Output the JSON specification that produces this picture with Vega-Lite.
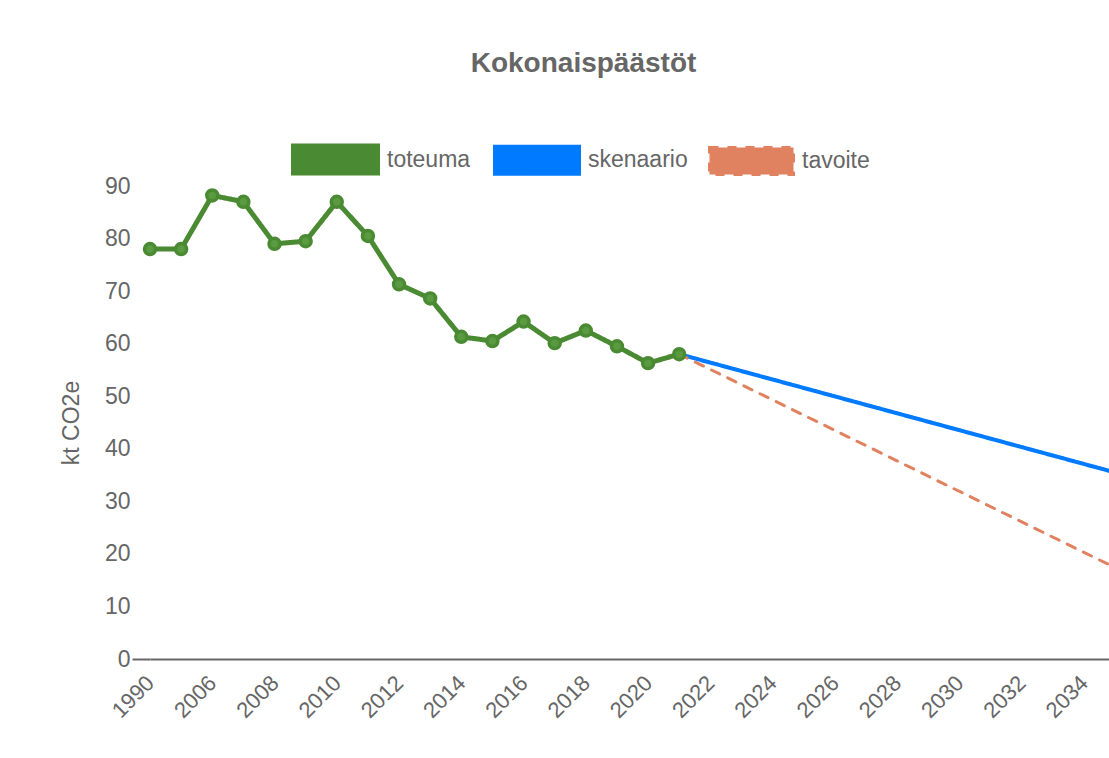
{
  "$schema": "https://vega.github.io/schema/vega-lite/v6.json",
  "autosize": "none",
  "width": 959,
  "height": 473,
  "padding": {"left": 150, "top": 186, "right": 0, "bottom": 99},
  "background": "white",
  "config": {
    "view": {"stroke": null},
    "font": "Liberation Sans"
  },
  "title": {
    "text": "Kokonaispäästöt",
    "font": "Liberation Sans",
    "fontSize": 28,
    "fontWeight": "bold",
    "color": "#666666",
    "anchor": "middle",
    "dx": -46,
    "offset": 52
  },
  "data": {
    "values": [
      {"year": "1990", "value": 78, "series": "toteuma"},
      {"year": "2005", "value": 78, "series": "toteuma"},
      {"year": "2006", "value": 88.2, "series": "toteuma"},
      {"year": "2007", "value": 87, "series": "toteuma"},
      {"year": "2008", "value": 79, "series": "toteuma"},
      {"year": "2009", "value": 79.5, "series": "toteuma"},
      {"year": "2010", "value": 87, "series": "toteuma"},
      {"year": "2011", "value": 80.5, "series": "toteuma"},
      {"year": "2012", "value": 71.3, "series": "toteuma"},
      {"year": "2013", "value": 68.6, "series": "toteuma"},
      {"year": "2014", "value": 61.3, "series": "toteuma"},
      {"year": "2015", "value": 60.5, "series": "toteuma"},
      {"year": "2016", "value": 64.2, "series": "toteuma"},
      {"year": "2017", "value": 60.1, "series": "toteuma"},
      {"year": "2018", "value": 62.5, "series": "toteuma"},
      {"year": "2019", "value": 59.5, "series": "toteuma"},
      {"year": "2020", "value": 56.3, "series": "toteuma"},
      {"year": "2021", "value": 58, "series": "toteuma"},
      {"year": "2021", "value": 58, "series": "skenaario"},
      {"year": "2035", "value": 35.5, "series": "skenaario"},
      {"year": "2021", "value": 58, "series": "tavoite"},
      {"year": "2035", "value": 17.4, "series": "tavoite"}
    ]
  },
  "encoding": {
    "x": {
      "field": "year",
      "type": "ordinal",
      "sort": null,
      "scale": {
        "type": "point",
        "padding": 0,
        "range": [0, 965],
        "domain": ["1990","2005","2006","2007","2008","2009","2010","2011","2012","2013","2014","2015","2016","2017","2018","2019","2020","2021","2022","2023","2024","2025","2026","2027","2028","2029","2030","2031","2032","2033","2034","2035"]
      },
      "axis": {
        "title": null,
        "values": ["1990","2006","2008","2010","2012","2014","2016","2018","2020","2022","2024","2026","2028","2030","2032","2034"],
        "labelAngle": -45,
        "labelFontSize": 22,
        "labelColor": "#666666",
        "labelFont": "Liberation Sans",
        "labelOffset": -7,
        "ticks": false,
        "labelPadding": 13,
        "domainColor": "#666666",
        "domainWidth": 2,
        "grid": false
      }
    },
    "y": {
      "field": "value",
      "type": "quantitative",
      "scale": {"domain": [0, 90], "nice": false, "zero": true},
      "axis": {
        "title": "kt CO2e",
        "titleFont": "Liberation Sans",
        "titleFontSize": 23,
        "titleFontWeight": "normal",
        "titleColor": "#666666",
        "titlePadding": 21,
        "values": [0,10,20,30,40,50,60,70,80,90],
        "labelFontSize": 23,
        "labelColor": "#666666",
        "labelFont": "Liberation Sans",
        "labelPadding": 2,
        "domain": false,
        "grid": false,
        "tickSize": 18,
        "tickColor": "#666666",
        "tickWidth": 2,
        "tickOpacity": {"condition": {"test": "datum.value === 0", "value": 1}, "value": 0}
      }
    }
  },
  "layer": [
    {
      "mark": {"type": "line", "strokeCap": "round", "strokeJoin": "round"},
      "encoding": {
        "color": {
          "field": "series",
          "type": "nominal",
          "scale": {"domain": ["toteuma", "skenaario", "tavoite"], "range": ["#4a8a32", "#007bff", "#e0825f"]},
          "legend": {
            "title": null,
            "orient": "none",
            "direction": "horizontal",
            "legendX": 156,
            "legendY": -56,
            "symbolType": "M-1.556,-0.5H1.556V0.5H-1.556Z",
            "symbolSize": 2916,
            "symbolStrokeWidth": 1,
            "labelFontSize": 23,
            "labelColor": "#666666",
            "labelFont": "Liberation Sans",
            "labelOffset": 22,
            "columnPadding": 15,
            "encode": {
              "symbols": {
                "update": {
                  "fill": {"scale": "color", "field": "value"},
                  "fillOpacity": {"value": 1},
                  "stroke": {"scale": "color", "field": "value"},
                  "strokeDash": {"signal": "datum.value === 'tavoite' ? [5,3] : [1,0]"}
                }
              }
            }
          }
        },
        "strokeDash": {
          "field": "series",
          "type": "nominal",
          "scale": {"domain": ["toteuma", "skenaario", "tavoite"], "range": [[1, 0], [1, 0], [9, 9]]},
          "legend": null
        },
        "strokeWidth": {
          "field": "series",
          "type": "nominal",
          "scale": {"domain": ["toteuma", "skenaario", "tavoite"], "range": [5, 3, 3.5]},
          "legend": null
        }
      }
    },
    {
      "transform": [{"filter": "datum.series === 'toteuma'"}],
      "mark": {"type": "point", "filled": true, "fill": "#5a9a40", "stroke": "#4a8a32", "strokeWidth": 3.5, "size": 120, "opacity": 1}
    }
  ]
}
